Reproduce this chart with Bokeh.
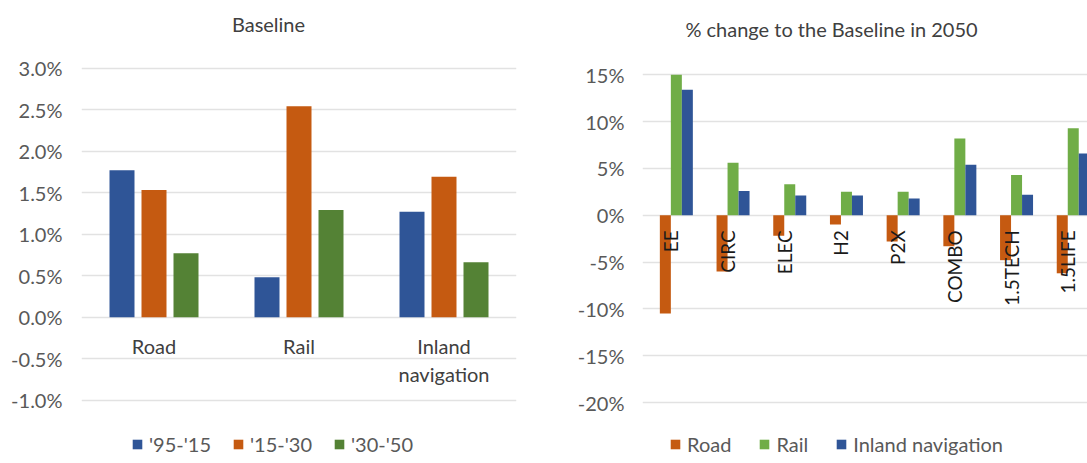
import numpy as np
from bokeh.plotting import figure
from bokeh.models import (ColumnDataSource, FactorRange, Range1d, FixedTicker,
                          PrintfTickFormatter, Legend, LegendItem, Label)
from bokeh.transform import dodge
from bokeh.layouts import row
from bokeh.embed import file_html
from bokeh.resources import INLINE
from bokeh.core.properties import value

# ---------------- data: left chart (Baseline growth) ----------------
left_title = "Baseline"
modes = ["Road", "Rail", "Inland navigation"]
mode_labels = ["Road", "Rail", "Inland\nnavigation"]
periods = ["'95-'15", "'15-'30", "'30-'50"]
growth_95_15 = [1.77, 0.48, 1.27]
growth_15_30 = [1.53, 2.54, 1.69]
growth_30_50 = [0.77, 1.29, 0.66]
left_ticks = [-1.0, -0.5, 0.0, 0.5, 1.0, 1.5, 2.0, 2.5, 3.0]

# ---------------- data: right chart (% change to Baseline 2050) ----------------
right_title = "% change to the Baseline in 2050"
scenarios = ["EE", "CIRC", "ELEC", "H2", "P2X", "COMBO", "1.5TECH", "1.5LIFE"]
series_right = ["Road", "Rail", "Inland navigation"]
road_change = [-10.5, -6.0, -2.2, -1.0, -2.8, -3.3, -4.8, -6.2]
rail_change = [15.0, 5.6, 3.3, 2.5, 2.5, 8.2, 4.3, 9.3]
inland_change = [13.4, 2.6, 2.1, 2.1, 1.8, 5.4, 2.2, 6.6]
right_ticks = [-20, -15, -10, -5, 0, 5, 10, 15]

FONT = "Lato"
BLUE = "#2F5597"
ORANGE = "#C55A11"
DKGREEN = "#548235"
LTGREEN = "#70AD47"
GRID = "#e2e2e2"
TXT = "#595959"
H = 456

# ---------------- left figure ----------------
src1 = ColumnDataSource(dict(mode=modes, label=mode_labels,
                             a=growth_95_15, b=growth_15_30, c=growth_30_50))
p1 = figure(width=532, height=H, x_range=FactorRange(*modes), y_range=Range1d(-1.678, 3.8128),
            output_backend="svg", toolbar_location=None,
            min_border_left=81, min_border_right=16, min_border_top=0, min_border_bottom=0)
r1 = p1.vbar(x=dodge("mode", -0.2207, range=p1.x_range), top="a", width=0.1724,
             source=src1, fill_color=BLUE, line_color=None)
r2 = p1.vbar(x=dodge("mode", 0.0, range=p1.x_range), top="b", width=0.1724,
             source=src1, fill_color=ORANGE, line_color=None)
r3 = p1.vbar(x=dodge("mode", 0.2207, range=p1.x_range), top="c", width=0.1724,
             source=src1, fill_color=DKGREEN, line_color=None)
p1.text(x="mode", y=0, text="label", source=src1, text_align="center", text_baseline="top",
        y_offset=17, text_font=value(FONT), text_font_size="20px", text_color="#404040",
        text_line_height=1.15)
p1.yaxis.ticker = FixedTicker(ticks=left_ticks)
p1.yaxis.formatter = PrintfTickFormatter(format="%.1f%%")
p1.yaxis.major_label_standoff = 19

p1.add_layout(Label(x=187, y=H - 23, x_units="screen", y_units="screen", text=left_title,
                    text_align="center", text_baseline="middle", text_font=FONT,
                    text_font_size="20px", text_color="#404040"))

leg1 = Legend(items=[LegendItem(label=periods[0], renderers=[r1]),
                     LegendItem(label=periods[1], renderers=[r2]),
                     LegendItem(label=periods[2], renderers=[r3])],
              orientation="horizontal", location=(50, 0), spacing=21)
p1.add_layout(leg1)

# ---------------- right figure ----------------
xc = list(np.arange(len(scenarios)) + 0.5)
src2 = ColumnDataSource(dict(xc=xc, scen=scenarios,
                             road=road_change, rail=rail_change, inland=inland_change))
p2 = figure(width=555, height=H, x_range=Range1d(0, 445 / 56.7), y_range=Range1d(-25.767, 22.935),
            output_backend="svg", toolbar_location=None,
            min_border_left=110, min_border_right=0, min_border_top=0, min_border_bottom=0)
q1 = p2.vbar(x=dodge("xc", -0.097), top="road", width=0.194, source=src2,
             fill_color=ORANGE, line_color=None)
q2 = p2.vbar(x=dodge("xc", 0.097), top="rail", width=0.194, source=src2,
             fill_color=LTGREEN, line_color=None)
q3 = p2.vbar(x=dodge("xc", 0.291), top="inland", width=0.194, source=src2,
             fill_color=BLUE, line_color=None)
p2.text(x="xc", y=0, text="scen", source=src2, angle=np.pi / 2, text_align="right",
        text_baseline="middle", y_offset=15, text_font=value(FONT), text_font_size="19px",
        text_color="#1a1a1a")
p2.yaxis.ticker = FixedTicker(ticks=right_ticks)
p2.yaxis.formatter = PrintfTickFormatter(format="%d%%")
p2.yaxis.major_label_standoff = 18

p2.add_layout(Label(x=189, y=H - 28, x_units="screen", y_units="screen", text=right_title,
                    text_align="center", text_baseline="middle", text_font=FONT,
                    text_font_size="20px", text_color="#404040"))

leg2 = Legend(items=[LegendItem(label=series_right[0], renderers=[q1]),
                     LegendItem(label=series_right[1], renderers=[q2]),
                     LegendItem(label=series_right[2], renderers=[q3])],
              orientation="horizontal", location=(27, 0), spacing=27)
p2.add_layout(leg2)

for p in (p1, p2):
    p.outline_line_color = None
    p.xaxis.visible = False
    p.xgrid.visible = False
    p.ygrid.grid_line_color = GRID
    p.ygrid.grid_line_width = 1.5
    p.yaxis.axis_line_color = None
    p.yaxis.major_tick_line_color = None
    p.yaxis.minor_tick_line_color = None
    p.yaxis.major_tick_out = 0
    p.yaxis.major_tick_in = 0
    p.yaxis.minor_tick_out = 0
    p.yaxis.major_label_text_font = FONT
    p.yaxis.major_label_text_font_size = "20px"
    p.yaxis.major_label_text_color = TXT
    for lg in p.legend:
        lg.margin = 0
        lg.padding = 0
        lg.label_standoff = 6
        lg.glyph_width = 12
        lg.glyph_height = 12
        lg.label_text_font = FONT
        lg.label_text_font_size = "20px"
        lg.label_text_color = TXT
        lg.border_line_color = None
        lg.background_fill_alpha = 0

layout = row(p1, p2)
open("out.html", "w").write(file_html(layout, INLINE))
